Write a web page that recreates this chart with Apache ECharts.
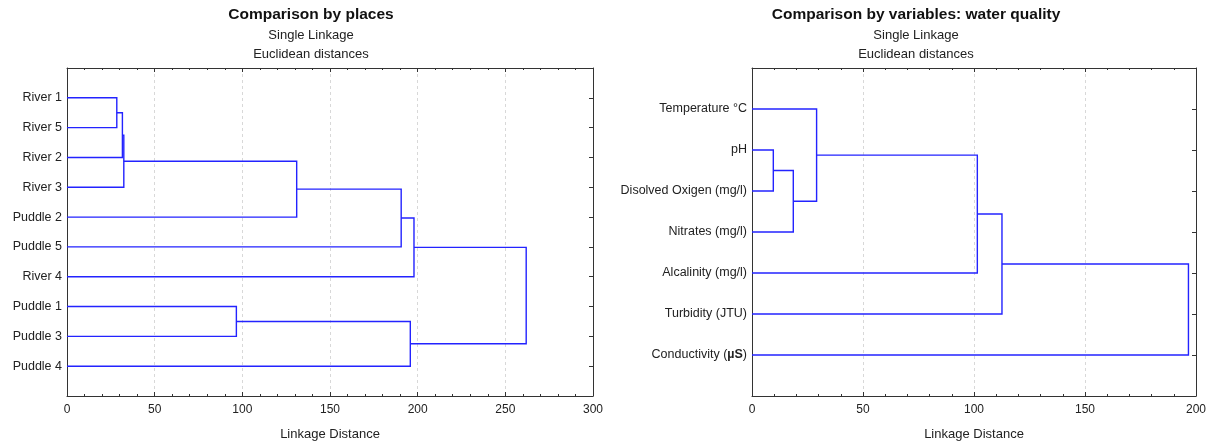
<!DOCTYPE html>
<html>
<head>
<meta charset="utf-8">
<script src="https://cdn.jsdelivr.net/npm/echarts@6/dist/echarts.min.js"></script>
<style>
    html, body { margin: 0; padding: 0; background: #fff; }
    #chart { width: 1210px; height: 446px; }
</style>
</head>
<body>
<div id="chart"></div>
<script>
// leaves, top to bottom
const placeLabels = ['River 1', 'River 5', 'River 2', 'River 3', 'Puddle 2', 'Puddle 5', 'River 4', 'Puddle 1', 'Puddle 3', 'Puddle 4']
// [cluster a, cluster b, linkage distance]; cluster n + i is merge i
const placeMerges = [
    [0, 1, 28.4],
    [10, 2, 31.6],
    [11, 3, 32.4],
    [12, 4, 131.0],
    [13, 5, 190.6],
    [14, 6, 197.9],
    [7, 8, 96.6],
    [16, 9, 195.8],
    [15, 17, 261.9]
]
const placeTicks = [0, 50, 100, 150, 200, 250, 300]

const varLabels = ['Temperature °C', 'pH', 'Disolved Oxigen (mg/l)', 'Nitrates (mg/l)', 'Alcalinity (mg/l)', 'Turbidity (JTU)', 'Conductivity (µS)']
const varMerges = [
    [1, 2, 9.6],
    [7, 3, 18.6],
    [0, 8, 29.1],
    [9, 4, 101.5],
    [10, 5, 112.6],
    [11, 6, 196.6]
]
const varTicks = [0, 50, 100, 150, 200]

const LINE = '#2323ff'
const FONT = 'Liberation Sans, Arial, sans-serif'

// turn merges into bracket segments [hA, yA, h, yB, hB]
function brackets(n, merges) {
    const nodes = []
    for (let i = 0; i < n; i++) nodes.push({ h: 0, y: i })
    return merges.map(([a, b, h]) => {
        const A = nodes[a], B = nodes[b]
        nodes.push({ h: h, y: (A.y + B.y) / 2 })
        return [A.h, A.y, h, B.y, B.h]
    })
}

function renderBracket(params, api) {
    const p = [
        api.coord([api.value(0), api.value(1)]),
        api.coord([api.value(2), api.value(1)]),
        api.coord([api.value(2), api.value(3)]),
        api.coord([api.value(4), api.value(3)])
    ]
    return {
        type: 'polyline',
        shape: { points: p },
        style: { stroke: LINE, lineWidth: 1.4, fill: null }
    }
}

function xAxes(gridIndex, ticks) {
    const base = {
        gridIndex: gridIndex,
        type: 'value',
        min: ticks[0],
        max: ticks[ticks.length - 1],
        interval: ticks[1] - ticks[0],
        axisLine: { show: true, onZero: false, lineStyle: { color: '#333', width: 1 } },
        axisTick: { show: true, inside: true, length: 4, lineStyle: { color: '#333' } },
        minorTick: { show: true, splitNumber: 5, length: 2, lineStyle: { color: '#333' } }
    }
    return [
        Object.assign({}, base, {
            position: 'bottom',
            name: 'Linkage Distance',
            nameLocation: 'middle',
            nameGap: 32,
            nameTextStyle: { fontFamily: FONT, fontSize: 13, color: '#222' },
            axisLabel: { fontFamily: FONT, fontSize: 12, color: '#222', margin: 8 },
            splitLine: { show: true, lineStyle: { color: '#d8d8d8', type: [3, 3], width: 1 } }
        }),
        Object.assign({}, base, {
            position: 'top',
            axisLabel: { show: false },
            splitLine: { show: false }
        })
    ]
}

function yAxes(gridIndex, labels) {
    const base = {
        gridIndex: gridIndex,
        type: 'value',
        inverse: true,
        min: -1,
        max: labels.length,
        interval: 1,
        splitLine: { show: false },
        axisLine: { show: true, onZero: false, lineStyle: { color: '#333', width: 1 } }
    }
    return [
        Object.assign({}, base, {
            position: 'left',
            axisTick: { show: false },
            axisLabel: {
                fontFamily: FONT, fontSize: 12.5, color: '#222', margin: 5,
                formatter: v => (labels[v] || '').replace('µS', '{b|µS}'),
                rich: { b: { fontFamily: FONT, fontSize: 12.5, fontWeight: 'bold', color: '#222' } }
            }
        }),
        Object.assign({}, base, {
            position: 'right',
            axisTick: { show: true, inside: true, length: 4, lineStyle: { color: '#333' } },
            axisLabel: { show: false }
        })
    ]
}

function title(text, centerX) {
    return {
        text: text,
        subtext: 'Single Linkage\nEuclidean distances',
        left: centerX,
        top: 2,
        textAlign: 'center',
        itemGap: 3,
        textStyle: { fontFamily: FONT, fontSize: 15.5, fontWeight: 'bold', color: '#111' },
        subtextStyle: { fontFamily: FONT, fontSize: 13, color: '#222', lineHeight: 19 }
    }
}

const chart = echarts.init(document.getElementById('chart'), null, { renderer: 'canvas' })
chart.setOption({
    backgroundColor: '#fff',
    animation: false,
    title: [title('Comparison by places', 306), title('Comparison by variables: water quality', 911)],
    grid: [
        { left: 67, width: 526, top: 68, bottom: 48 },
        { left: 752, width: 444, top: 68, bottom: 48 }
    ],
    xAxis: xAxes(0, placeTicks).concat(xAxes(1, varTicks)),
    yAxis: yAxes(0, placeLabels).concat(yAxes(1, varLabels)),
    series: [{
        type: 'custom',
        xAxisIndex: 0,
        yAxisIndex: 0,
        renderItem: renderBracket,
        data: brackets(placeLabels.length, placeMerges),
        silent: true
    }, {
        type: 'custom',
        xAxisIndex: 2,
        yAxisIndex: 2,
        renderItem: renderBracket,
        data: brackets(varLabels.length, varMerges),
        silent: true
    }]
})
</script>
</body>
</html>
